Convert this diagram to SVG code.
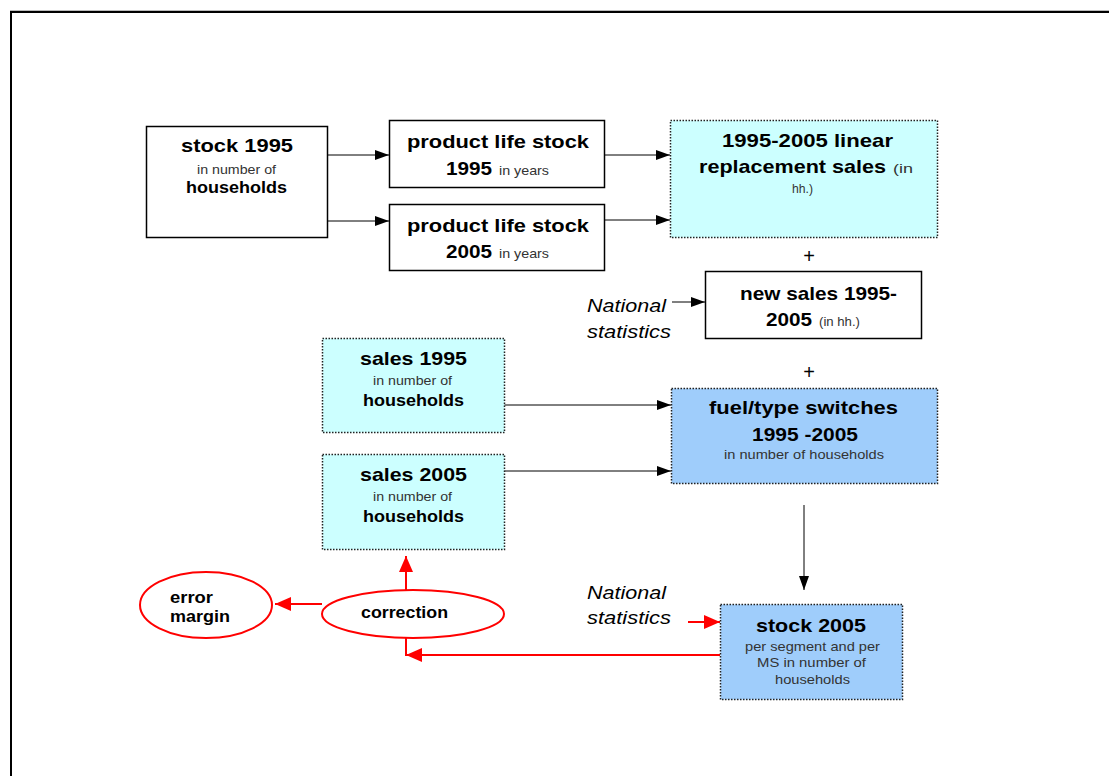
<svg xmlns="http://www.w3.org/2000/svg" width="1109" height="776" viewBox="0 0 1109 776">
<style>
text { font-family: "Liberation Sans", Arial, sans-serif; fill: #000; }
.b { font-weight: bold; font-size: 18.5px; }
.b2 { font-weight: bold; font-size: 16.5px; }
.r { font-size: 13px; fill: #333; }
.i { font-style: italic; font-size: 19px; }
.pl { font-size: 20px; }
.solid { fill: #fff; stroke: #000; stroke-width: 1.5; }
.cyan { fill: #ccffff; stroke: #222; stroke-width: 1.5; stroke-dasharray: 1.5 1.5; }
.blue { fill: #9fcdfb; stroke: #222; stroke-width: 1.5; stroke-dasharray: 1.5 1.5; }
.ell { fill: #fff; stroke: #ff0000; stroke-width: 2; }
.ln { stroke: #000; stroke-width: 1; fill: none; }
.rln { stroke: #ff0000; stroke-width: 2; fill: none; }
</style>
<defs>
<marker id="ab" markerUnits="userSpaceOnUse" markerWidth="14" markerHeight="10" refX="14" refY="5" orient="auto">
<path d="M0,0 L14,5 L0,10 z" fill="#000"/>
</marker>
<marker id="ar" markerUnits="userSpaceOnUse" markerWidth="16" markerHeight="14" refX="16" refY="7" orient="auto">
<path d="M0,0 L16,7 L0,14 z" fill="#ff0000"/>
</marker>
</defs>
<rect x="0" y="0" width="1109" height="776" fill="#fff"/>
<g id="frame">
<line x1="10" y1="10.5" x2="1109" y2="10.5" stroke="#bbb" stroke-width="1"/>
<polyline points="11,776 11,12 1109,12" fill="none" stroke="#000" stroke-width="2"/>
</g>

<g id="connectors">
<line class="ln" x1="323" y1="155" x2="389" y2="155" marker-end="url(#ab)"/>
<line class="ln" x1="323" y1="221" x2="389" y2="221" marker-end="url(#ab)"/>
<line class="ln" x1="604" y1="155" x2="670" y2="155" marker-end="url(#ab)"/>
<line class="ln" x1="604" y1="220" x2="670" y2="220" marker-end="url(#ab)"/>
<line class="ln" x1="672" y1="302" x2="705" y2="302" marker-end="url(#ab)"/>
<line class="ln" x1="504" y1="405" x2="671" y2="405" marker-end="url(#ab)"/>
<line class="ln" x1="504" y1="471" x2="671" y2="471" marker-end="url(#ab)"/>
<line class="ln" x1="804" y1="505" x2="804" y2="590" marker-end="url(#ab)"/>
<line class="rln" x1="688" y1="622" x2="720" y2="622" marker-end="url(#ar)"/>
<line class="rln" x1="406" y1="638" x2="406" y2="656"/>
<line class="rln" x1="720" y1="655" x2="406" y2="655" marker-end="url(#ar)"/>
<line class="rln" x1="406" y1="590" x2="406" y2="556" marker-end="url(#ar)"/>
<line class="rln" x1="322" y1="604" x2="275" y2="604" marker-end="url(#ar)"/>
</g>

<g id="stock1995">
<rect class="solid" x="146.5" y="126.5" width="181" height="111"/>
<text class="b" x="181" y="152" textLength="112" lengthAdjust="spacingAndGlyphs">stock 1995</text>
<text class="r" x="197" y="174" textLength="79" lengthAdjust="spacingAndGlyphs">in number of</text>
<text class="b2" x="186" y="193" textLength="101" lengthAdjust="spacingAndGlyphs">households</text>
</g>

<g id="pl1995">
<rect class="solid" x="389.5" y="120.5" width="215" height="67"/>
<text class="b" x="407" y="148" textLength="182" lengthAdjust="spacingAndGlyphs">product life stock</text>
<text class="b" x="446" y="175" textLength="46" lengthAdjust="spacingAndGlyphs">1995</text>
<text class="r" x="499" y="175" textLength="50" lengthAdjust="spacingAndGlyphs">in years</text>
</g>

<g id="pl2005">
<rect class="solid" x="389.5" y="204.5" width="215" height="66"/>
<text class="b" x="407" y="232" textLength="182" lengthAdjust="spacingAndGlyphs">product life stock</text>
<text class="b" x="446" y="258" textLength="46" lengthAdjust="spacingAndGlyphs">2005</text>
<text class="r" x="499" y="258" textLength="50" lengthAdjust="spacingAndGlyphs">in years</text>
</g>

<g id="replacement">
<rect class="cyan" x="670.5" y="120.5" width="267" height="117"/>
<text class="b" x="722" y="147" textLength="171" lengthAdjust="spacingAndGlyphs">1995-2005 linear</text>
<text class="b" x="699" y="173" textLength="187" lengthAdjust="spacingAndGlyphs">replacement sales</text>
<text class="r" x="893" y="173" textLength="20" lengthAdjust="spacingAndGlyphs">(in</text>
<text class="r" x="792" y="193" textLength="21" lengthAdjust="spacingAndGlyphs">hh.)</text>
</g>

<g id="plus1"><text class="pl" x="809" y="263" text-anchor="middle">+</text></g>

<g id="newsales">
<rect class="solid" x="705.5" y="271.5" width="216" height="67"/>
<text class="b" x="740" y="300" textLength="157" lengthAdjust="spacingAndGlyphs">new sales 1995-</text>
<text class="b" x="766" y="326" textLength="46" lengthAdjust="spacingAndGlyphs">2005</text>
<text class="r" x="819" y="326" textLength="41" lengthAdjust="spacingAndGlyphs">(in hh.)</text>
</g>

<g id="natstat1">
<text class="i" x="587" y="312" textLength="79" lengthAdjust="spacingAndGlyphs">National</text>
<text class="i" x="587" y="338" textLength="84" lengthAdjust="spacingAndGlyphs">statistics</text>
</g>

<g id="plus2"><text class="pl" x="809" y="379" text-anchor="middle">+</text></g>

<g id="sales1995">
<rect class="cyan" x="322.5" y="338.5" width="182" height="94"/>
<text class="b" x="360" y="365" textLength="107" lengthAdjust="spacingAndGlyphs">sales 1995</text>
<text class="r" x="373" y="385" textLength="79" lengthAdjust="spacingAndGlyphs">in number of</text>
<text class="b2" x="363" y="406" textLength="101" lengthAdjust="spacingAndGlyphs">households</text>
</g>

<g id="sales2005">
<rect class="cyan" x="322.5" y="454.5" width="182" height="95"/>
<text class="b" x="360" y="481" textLength="107" lengthAdjust="spacingAndGlyphs">sales 2005</text>
<text class="r" x="373" y="501" textLength="79" lengthAdjust="spacingAndGlyphs">in number of</text>
<text class="b2" x="363" y="522" textLength="101" lengthAdjust="spacingAndGlyphs">households</text>
</g>

<g id="fuelswitch">
<rect class="blue" x="671.5" y="388.5" width="266" height="95"/>
<text class="b" x="709" y="414" textLength="189" lengthAdjust="spacingAndGlyphs">fuel/type switches</text>
<text class="b" x="752" y="441" textLength="106" lengthAdjust="spacingAndGlyphs">1995 -2005</text>
<text class="r" x="724" y="459" textLength="160" lengthAdjust="spacingAndGlyphs">in number of households</text>
</g>

<g id="natstat2">
<text class="i" x="587" y="599" textLength="79" lengthAdjust="spacingAndGlyphs">National</text>
<text class="i" x="587" y="624" textLength="84" lengthAdjust="spacingAndGlyphs">statistics</text>
</g>

<g id="stock2005">
<rect class="blue" x="720.5" y="604.5" width="182" height="95"/>
<text class="b" x="756" y="632" textLength="110" lengthAdjust="spacingAndGlyphs">stock 2005</text>
<text class="r" x="745" y="651" textLength="135" lengthAdjust="spacingAndGlyphs">per segment and per</text>
<text class="r" x="757" y="667" textLength="109" lengthAdjust="spacingAndGlyphs">MS in number of</text>
<text class="r" x="775" y="684" textLength="75" lengthAdjust="spacingAndGlyphs">households</text>
</g>

<g id="correction">
<ellipse class="ell" cx="413" cy="614" rx="91" ry="24"/>
<text class="b2" x="361" y="618" textLength="87" lengthAdjust="spacingAndGlyphs">correction</text>
</g>

<g id="errormargin">
<ellipse class="ell" cx="206" cy="605" rx="66" ry="33"/>
<text class="b2" x="170" y="603" textLength="43" lengthAdjust="spacingAndGlyphs">error</text>
<text class="b2" x="170" y="622" textLength="60" lengthAdjust="spacingAndGlyphs">margin</text>
</g>
</svg>
